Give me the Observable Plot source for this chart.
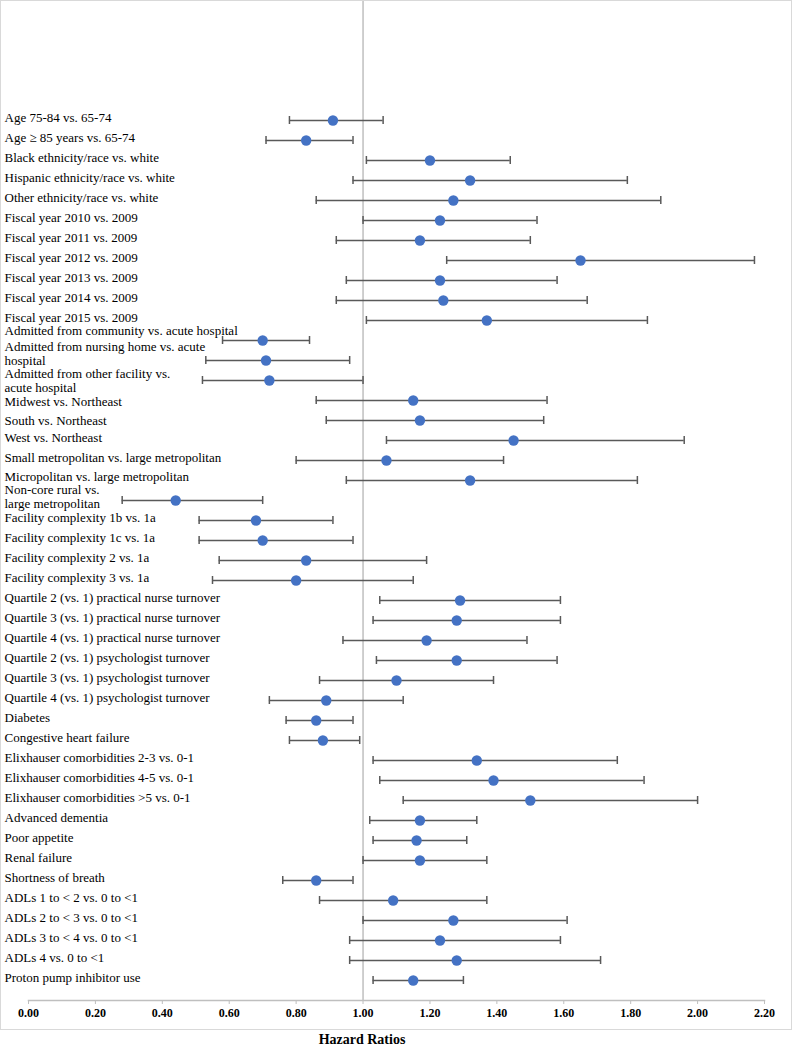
<!DOCTYPE html>
<html>
<head>
<meta charset="utf-8">
<script src="https://cdn.jsdelivr.net/npm/d3@7"></script>
<script src="https://cdn.jsdelivr.net/npm/@observablehq/plot@0.6"></script>
<style>
  body { margin: 0; background: #fff; }
  #frame { width: 790px; height: 1028px; border: 1px solid #d9d9d9; }
  #frame svg { display: block; }
  #xlabel { width: 724px; text-align: center; font-family: "Liberation Serif", "Times New Roman", serif; font-weight: bold; font-size: 14px; line-height: 20px; }
</style>
</head>
<body>
<div id="frame"></div>
<div id="xlabel">Hazard Ratios</div>
<script>
const labels = [
  "Age 75-84 vs. 65-74",
  "Age \u2265 85 years vs. 65-74",
  "Black ethnicity/race vs. white",
  "Hispanic ethnicity/race vs. white",
  "Other ethnicity/race vs. white",
  "Fiscal year 2010 vs. 2009",
  "Fiscal year 2011 vs. 2009",
  "Fiscal year 2012 vs. 2009",
  "Fiscal year 2013 vs. 2009",
  "Fiscal year 2014 vs. 2009",
  "Fiscal year 2015 vs. 2009",
  "Admitted from community vs. acute hospital",
  "Admitted from nursing home vs. acute\nhospital",
  "Admitted from other facility vs.\nacute hospital",
  "Midwest vs. Northeast",
  "South vs. Northeast",
  "West vs. Northeast",
  "Small metropolitan vs. large metropolitan",
  "Micropolitan vs. large metropolitan",
  "Non-core rural vs.\nlarge metropolitan",
  "Facility complexity 1b vs. 1a",
  "Facility complexity 1c vs. 1a",
  "Facility complexity 2 vs. 1a",
  "Facility complexity 3 vs. 1a",
  "Quartile 2 (vs. 1) practical nurse turnover",
  "Quartile 3 (vs. 1) practical nurse turnover",
  "Quartile 4 (vs. 1) practical nurse turnover",
  "Quartile 2 (vs. 1) psychologist turnover",
  "Quartile 3 (vs. 1) psychologist turnover",
  "Quartile 4 (vs. 1) psychologist turnover",
  "Diabetes",
  "Congestive heart failure",
  "Elixhauser comorbidities 2-3 vs. 0-1",
  "Elixhauser comorbidities 4-5 vs. 0-1",
  "Elixhauser comorbidities >5 vs. 0-1",
  "Advanced dementia",
  "Poor appetite",
  "Renal failure",
  "Shortness of breath",
  "ADLs 1 to < 2 vs. 0 to <1",
  "ADLs 2 to < 3 vs. 0 to <1",
  "ADLs 3 to < 4 vs. 0 to <1",
  "ADLs 4 vs. 0 to <1",
  "Proton pump inhibitor use"
];
const hazardRatio = [
  0.91, 0.83, 1.20, 1.32, 1.27, 1.23, 1.17, 1.65, 1.23, 1.24, 1.37,
  0.70, 0.71, 0.72, 1.15, 1.17, 1.45, 1.07, 1.32, 0.44,
  0.68, 0.70, 0.83, 0.80, 1.29, 1.28, 1.19, 1.28, 1.10, 0.89,
  0.86, 0.88, 1.34, 1.39, 1.50, 1.17, 1.16, 1.17, 0.86,
  1.09, 1.27, 1.23, 1.28, 1.15
];
const lowerCI = [
  0.78, 0.71, 1.01, 0.97, 0.86, 1.00, 0.92, 1.25, 0.95, 0.92, 1.01,
  0.58, 0.53, 0.52, 0.86, 0.89, 1.07, 0.80, 0.95, 0.28,
  0.51, 0.51, 0.57, 0.55, 1.05, 1.03, 0.94, 1.04, 0.87, 0.72,
  0.77, 0.78, 1.03, 1.05, 1.12, 1.02, 1.03, 1.00, 0.76,
  0.87, 1.00, 0.96, 0.96, 1.03
];
const upperCI = [
  1.06, 0.97, 1.44, 1.79, 1.89, 1.52, 1.50, 2.17, 1.58, 1.67, 1.85,
  0.84, 0.96, 1.00, 1.55, 1.54, 1.96, 1.42, 1.82, 0.70,
  0.91, 0.97, 1.19, 1.15, 1.59, 1.59, 1.49, 1.58, 1.39, 1.12,
  0.97, 0.99, 1.76, 1.84, 2.00, 1.34, 1.31, 1.37, 0.97,
  1.37, 1.61, 1.59, 1.71, 1.30
];
const xTicks = [0, 0.2, 0.4, 0.6, 0.8, 1.0, 1.2, 1.4, 1.6, 1.8, 2.0, 2.2];

const rows = labels.map((label, i) => ({
  label, hr: hazardRatio[i], lo: lowerCI[i], hi: upperCI[i]
}));

// label vertical nudges (layout only, kept in code)
function labelShift(label, i) {
  if (i === 11) return -10;  // long single line sits higher
  if (i === 12) return -7;   // wrapped: nursing home
  if (i === 13) return 0;    // wrapped: other facility
  if (i === 14) return 1;
  if (i === 15) return 0;
  if (i === 18) return -4;
  if (i === 19) return -4;   // wrapped: non-core rural
  return -3;
}
const shiftGroups = d3.groups(rows.map((d, i) => ({...d, shift: labelShift(d.label, i)})), d => d.shift);

const serif = "Liberation Serif, Times New Roman, serif";

const chart = Plot.plot({
  width: 790,
  height: 1028,
  marginLeft: 27,
  marginRight: 27,
  marginTop: 0,
  marginBottom: 29,
  style: { fontFamily: serif, background: "white", overflow: "visible" },
  x: { domain: [0, 2.2] },
  y: { type: "band", domain: labels, range: [109, 989], padding: 0, axis: null },
  marks: [
    Plot.ruleX([1], { stroke: "#bfbfbf", strokeWidth: 1.5 }),
    Plot.frame({ anchor: "bottom", stroke: "#bfbfbf", strokeWidth: 1.5 }),
    Plot.axisX({
      ticks: xTicks,
      tickFormat: d3.format(".2f"),
      tickSize: 4,
      tickPadding: 4,
      stroke: "#bfbfbf",
      fill: "black",
      fontSize: 12,
      fontWeight: "bold",
      fontFamily: serif,
      label: null
    }),
    Plot.ruleY(rows, { y: "label", x1: "lo", x2: "hi", stroke: "#595959", strokeWidth: 1.5 }),
    Plot.tickX(rows, { y: "label", x: "lo", stroke: "#595959", strokeWidth: 1.5, insetTop: 6, insetBottom: 6 }),
    Plot.tickX(rows, { y: "label", x: "hi", stroke: "#595959", strokeWidth: 1.5, insetTop: 6, insetBottom: 6 }),
    Plot.dot(rows, { y: "label", x: "hr", r: 5.2, fill: "#4472C4", stroke: null }),
    ...shiftGroups.map(([shift, group]) => Plot.text(group, {
      y: "label", text: "label", frameAnchor: "left", textAnchor: "start",
      dx: -24, dy: shift, lineHeight: 1.05, fontSize: 13, fontFamily: serif, fill: "black"
    }))
  ]
});
document.getElementById("frame").appendChild(chart);
</script>
</body>
</html>
